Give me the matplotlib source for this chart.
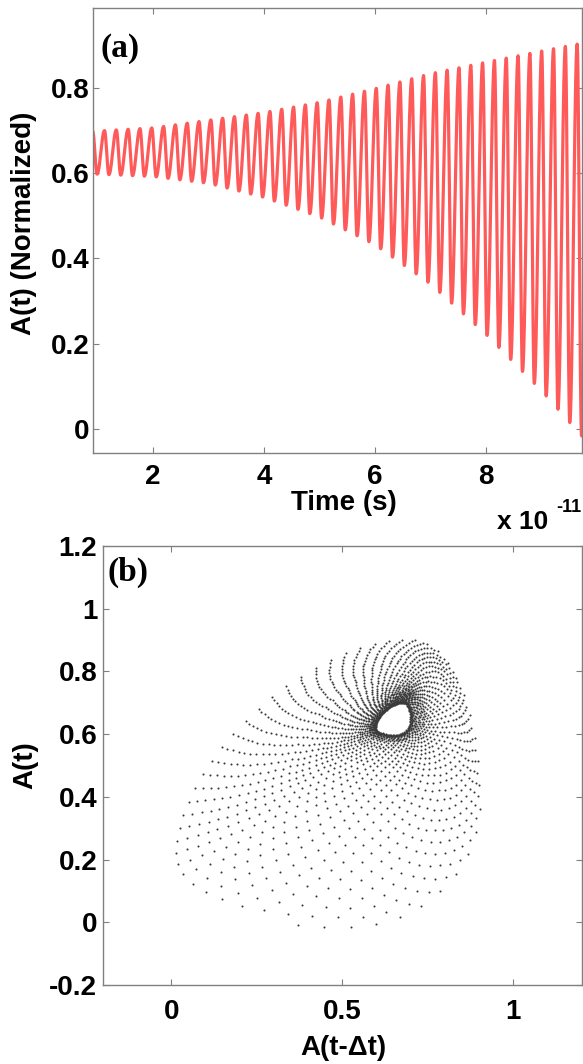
import numpy as np
import matplotlib
matplotlib.use('Agg')
import matplotlib.pyplot as plt

plt.rcParams['axes.unicode_minus'] = False

# ---------------- data ----------------
# envelope of the oscillation in panel (a); time in units of 1e-11 s
env_t = [0.9, 2.0, 3.0, 4.0, 5.0, 6.0, 7.0, 8.0, 9.0, 9.75]
env_upper = [0.698, 0.706, 0.724, 0.742, 0.766, 0.798, 0.833, 0.860, 0.886, 0.905]
env_lower = [0.598, 0.592, 0.576, 0.543, 0.497, 0.432, 0.340, 0.222, 0.090, -0.020]
period = 0.213            # oscillation period (x1e-11 s), from stripe spacing
t_start, t_end = 0.91, 9.73
samples_per_period = 50.65  # sampling used for the delay plot
delay_fraction = 0.20       # delta t as a fraction of one period
fall_fraction = 0.37        # share of each period spent falling (peak -> trough)

xticks_a = [2, 4, 6, 8]
yticks_a = [0, 0.2, 0.4, 0.6, 0.8]
yticklabels_a = ['0', '0.2', '0.4', '0.6', '0.8']
xticks_b = [0, 0.5, 1]
xticklabels_b = ['0', '0.5', '1']
yticks_b = [-0.2, 0, 0.2, 0.4, 0.6, 0.8, 1.0, 1.2]
yticklabels_b = ['-0.2', '0', '0.2', '0.4', '0.6', '0.8', '1', '1.2']

# ---------------- waveform built from the read values ----------------


def wave(t):
    frac = ((t - t_start) / period) % 1.0
    psi = np.interp(frac, [0, fall_fraction, 1], [0, np.pi, 2 * np.pi])
    g = (1 + np.cos(psi)) / 2
    up = np.interp(t, env_t, env_upper)
    lo = np.interp(t, env_t, env_lower)
    return lo + (up - lo) * g


t_line = np.arange(t_start, t_end, period / 80)
a_line = wave(t_line)

delay = delay_fraction * period
dt_s = period / samples_per_period
t_s = np.arange(t_start + delay, t_end, dt_s)
x_s = wave(t_s - delay)
y_s = wave(t_s)

# ---------------- figure ----------------
W, H = 583, 1064
fig = plt.figure(figsize=(W / 100, H / 100), dpi=100)

sans = 'Liberation Sans'
serif = 'Liberation Serif'
fs = 20
spine_col = '#808080'


def style(ax, xpad, ypad):
    for s in ax.spines.values():
        s.set_color(spine_col)
        s.set_linewidth(1.0)
    ax.tick_params(direction='in', top=True, right=True, length=4, width=0.8,
                   color=spine_col, labelsize=fs)
    ax.tick_params(axis='x', pad=xpad)
    ax.tick_params(axis='y', pad=ypad)
    for lab in ax.get_xticklabels() + ax.get_yticklabels():
        lab.set_fontfamily(sans)
        lab.set_fontweight('bold')


def fx(px):
    return px / W


def fy(py):
    return 1 - py / H


# panel (a)
axa = fig.add_axes([fx(92.7), fy(453), fx(582) - fx(92.7), fy(8) - fy(453)])
axa.plot(t_line, a_line, color='#ff5a5a', lw=2.3)
axa.set_xlim(0.91, 9.73)
axa.set_ylim(-0.056, 0.987)
axa.set_xticks(xticks_a)
axa.set_xticklabels([str(v) for v in xticks_a])
axa.set_yticks(yticks_a)
axa.set_yticklabels(yticklabels_a)
style(axa, 8, 2.5)
axa.text(0.015, 0.91, '(a)', transform=axa.transAxes, fontfamily=serif,
         fontweight='bold', fontsize=24, va='center', ha='left')

fig.text(fx(24), fy(223), 'A(t) (Normalized)', rotation=90, ha='center', va='center',
         fontfamily=sans, fontweight='bold', fontsize=20)
fig.text(fx(344), fy(503), 'Time (s)', ha='center', va='center',
         fontfamily=sans, fontweight='bold', fontsize=20)
fig.text(fx(497), fy(522), 'x 10', ha='left', va='center',
         fontfamily=sans, fontweight='bold', fontsize=19)
fig.text(fx(556), fy(507), '-11', ha='left', va='center',
         fontfamily=sans, fontweight='bold', fontsize=13)

# panel (b)
axb = fig.add_axes([fx(102.7), fy(985), fx(581.7) - fx(102.7), fy(546) - fy(985)])
axb.scatter(x_s, y_s, s=2.2, c='#3a3a3a', linewidths=0)
axb.set_xlim(-0.2, 1.2)
axb.set_ylim(-0.2, 1.2)
axb.set_xticks(xticks_b)
axb.set_xticklabels(xticklabels_b)
axb.set_yticks(yticks_b)
axb.set_yticklabels(yticklabels_b)
style(axb, 10, 4)
axb.text(0.009, 0.94, '(b)', transform=axb.transAxes, fontfamily=serif,
         fontweight='bold', fontsize=24, va='center', ha='left')

fig.text(fx(25), fy(765), 'A(t)', rotation=90, ha='center', va='center',
         fontfamily=sans, fontweight='bold', fontsize=20)
fig.text(fx(343), fy(1048), 'A(t-\u0394t)', ha='center', va='center',
         fontfamily=sans, fontweight='bold', fontsize=20)

fig.savefig('out.png', dpi=100)
